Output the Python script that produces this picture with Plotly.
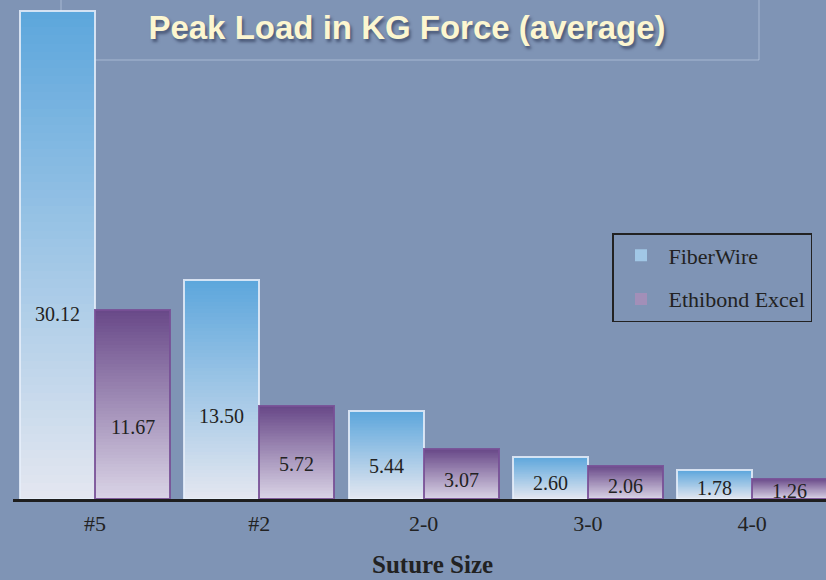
import plotly.graph_objects as go

categories = ["#5", "#2", "2-0", "3-0", "4-0"]
fiberwire = [30.12, 13.50, 5.44, 2.60, 1.78]
ethibond = [11.67, 5.72, 3.07, 2.06, 1.26]
series_names = ["FiberWire", "Ethibond Excel"]

title_text = "Peak Load in KG Force (average)"
x_title = "Suture Size"

# style
BG = "#7f94b5"
FW_TOP, FW_BOT = (92, 166, 220), (228, 231, 240)
EB_TOP, EB_BOT = (104, 72, 136), (218, 212, 230)
N = 60
BAR_W = 0.457


def mix(c1, c2, t):
    return "rgb(%d,%d,%d)" % tuple(round(a + (b - a) * t) for a, b in zip(c1, c2))


fig = go.Figure()

for name, vals, top, bot, off, linec in [
    (series_names[0], fiberwire, FW_TOP, FW_BOT, -BAR_W, "rgba(230,238,250,0.85)"),
    (series_names[1], ethibond, EB_TOP, EB_BOT, 0.0, "rgba(120,80,150,0.9)"),
]:
    for k in range(N):
        frac = 1 - k / N
        t = (k + 0.5) / N  # 0 = top colour, 1 = bottom colour
        fig.add_trace(go.Bar(
            x=categories, y=[v * frac for v in vals],
            width=BAR_W, offset=off,
            marker=dict(color=mix(top, bot, t), line=dict(width=0)),
            name=name, legendgroup=name,
            showlegend=(k == N // 2),
            hoverinfo="skip",
        ))
    fig.add_trace(go.Bar(
        x=categories, y=vals, width=BAR_W, offset=off,
        marker=dict(color="rgba(0,0,0,0)", line=dict(color=linec, width=2)),
        name=name, legendgroup=name, showlegend=False,
    ))

annotations = []
for vals, off in [(fiberwire, -BAR_W), (ethibond, 0.0)]:
    for i, v in enumerate(vals):
        annotations.append(dict(
            x=i + off + BAR_W / 2, y=v * 0.38, xref="x", yref="y",
            text=f"{v:.2f}", showarrow=False,
            font=dict(family="Liberation Serif", size=20, color="#222"),
        ))

annotations.append(dict(
    x=(432 - 13) / 813, y=-0.132, xref="paper", yref="paper",
    text=f"<b>{x_title}</b>", showarrow=False, yanchor="middle",
    font=dict(family="Liberation Serif", size=25, color="#222"),
))

fig.update_layout(
    width=826, height=580,
    margin=dict(l=13, r=0, t=0, b=81),
    paper_bgcolor=BG, plot_bgcolor=BG,
    barmode="overlay",
    title=dict(
        text=f"<b>{title_text}</b>", x=407 / 826, y=1 - 27 / 580,
        xanchor="center", yanchor="middle", xref="container", yref="container",
        font=dict(family="Liberation Sans Narrow, Arial Narrow, Liberation Sans",
                  size=33, color="#fcf6d0",
                  shadow="2px 3px 3px rgba(40,50,80,0.6)"),
    ),
    xaxis=dict(
        range=[-0.5, 4.45], showgrid=False, showline=True, linecolor="#1e1e1e",
        linewidth=3, ticks="", tickfont=dict(family="Liberation Serif", size=22, color="#222"),
        ticklabelstandoff=3,
    ),
    yaxis=dict(range=[0, 30.8], visible=False, showgrid=False),
    legend=dict(
        x=(612 - 13) / 813, y=1 - 233 / 499, xanchor="left", yanchor="top",
        bgcolor="rgba(0,0,0,0)", bordercolor="#222", borderwidth=1.5,
        font=dict(family="Liberation Serif", size=22, color="#222"),
        tracegroupgap=12, traceorder="grouped", itemwidth=45,
    ),
    annotations=annotations,
    shapes=[dict(
        type="rect", xref="paper", yref="paper",
        x0=(61 - 13) / 813, x1=(759 - 13) / 813, y0=1 - 60 / 499, y1=1.05,
        line=dict(color="rgba(200,215,235,0.55)", width=1), layer="below",
    )],
    bargap=0, showlegend=True,
)

fig.write_html(
    "out.html",
    config={"displayModeBar": False},
    post_script="document.body.style.margin='0';document.body.style.background='%s';" % BG,
)
